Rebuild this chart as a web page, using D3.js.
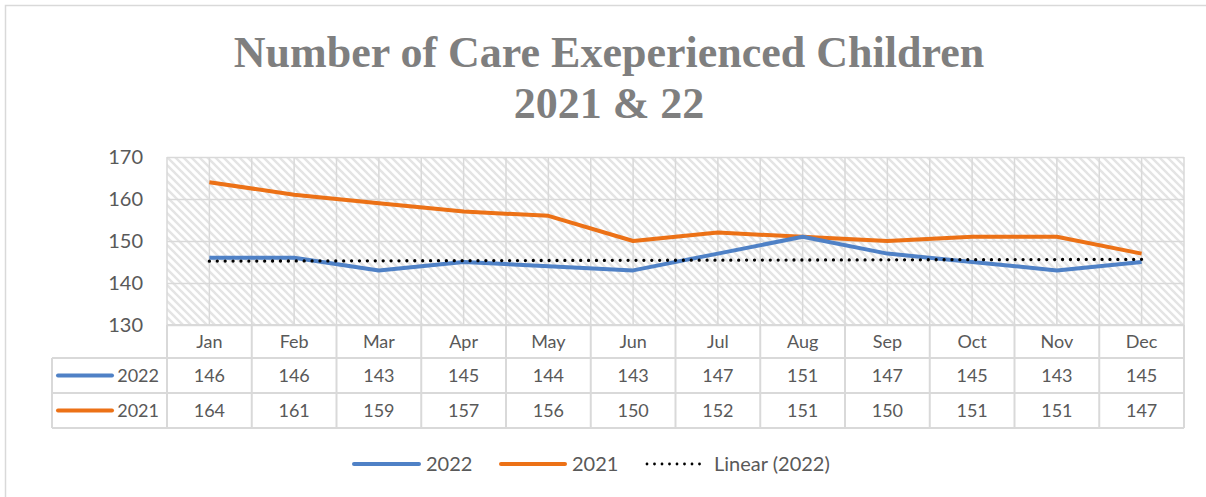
<!DOCTYPE html>
<html>
<head>
<meta charset="utf-8">
<script src="https://cdn.jsdelivr.net/npm/d3@7"></script>
<style>
  body { margin: 0; background: #fff; }
  text { font-family: Lato, "Open Sans", sans-serif; fill: #595959; }
</style>
</head>
<body>
<div id="chart"></div>
<script>
// chart data
const months = ["Jan", "Feb", "Mar", "Apr", "May", "Jun", "Jul", "Aug", "Sep", "Oct", "Nov", "Dec"];
const values2022 = [146, 146, 143, 145, 144, 143, 147, 151, 147, 145, 143, 145];
const values2021 = [164, 161, 159, 157, 156, 150, 152, 151, 150, 151, 151, 147];
const yTicks = [130, 140, 150, 160, 170];
const titleLines = ["Number of Care Exeperienced Children", "2021 & 22"];

const width = 1206, height = 497;
const margin = {top: 157, right: 22, bottom: 172, left: 167};
const plotW = width - margin.left - margin.right;
const plotH = height - margin.top - margin.bottom;
const rowH = [33, 35, 35];

const blue = "#4f81c6", orange = "#ec7116", grid = "#d9d9d9";

const svg = d3.select("#chart").append("svg")
    .attr("width", width)
    .attr("height", height);

// hatch pattern for plot background
const defs = svg.append("defs");
const pat = defs.append("pattern")
    .attr("id", "hatch")
    .attr("patternUnits", "userSpaceOnUse")
    .attr("width", 8).attr("height", 8);
pat.append("rect").attr("width", 8).attr("height", 8).attr("fill", "#fff");
pat.append("path")
    .attr("d", "M-2,-2 L10,10 M-2,6 L2,10 M6,-2 L10,2")
    .attr("stroke", "#e4e4e4")
    .attr("stroke-width", 2.4);

// outer chart border
svg.append("rect")
    .attr("x", 5.5).attr("y", 5.5)
    .attr("width", 1210).attr("height", 500)
    .attr("fill", "none")
    .attr("stroke", grid)
    .attr("stroke-width", 1.5);

// title
svg.append("text")
    .attr("text-anchor", "middle")
    .style("font-family", "'Liberation Serif', serif")
    .style("font-weight", "bold")
    .style("font-size", "44px")
    .style("fill", "#7f7f7f")
    .selectAll("tspan")
    .data(titleLines)
    .join("tspan")
    .attr("x", 609)
    .attr("y", (d, i) => 67 + i * 51)
    .text(d => d);

const g = svg.append("g")
    .attr("transform", "translate(" + margin.left + "," + margin.top + ")");

const x = d3.scaleBand().domain(months).range([0, plotW]);
const y = d3.scaleLinear().domain([130, 170]).range([plotH, 0]);
const bw = x.bandwidth();

g.append("rect")
    .attr("width", plotW).attr("height", plotH)
    .attr("fill", "url(#hatch)");

// vertical gridlines, at category edges and centres
const vLines = [];
months.forEach(m => { vLines.push(x(m)); vLines.push(x(m) + bw / 2); });
vLines.push(plotW);
g.append("g").selectAll("line")
    .data(vLines)
    .join("line")
    .attr("x1", d => d).attr("x2", d => d)
    .attr("y1", 0).attr("y2", plotH)
    .attr("stroke", grid)
    .attr("stroke-width", 1.5);

// y axis with horizontal gridlines
const yAxis = g.append("g")
    .call(d3.axisLeft(y).tickValues(yTicks).tickSize(-plotW).tickPadding(24));
yAxis.select(".domain").remove();
yAxis.selectAll(".tick line").attr("stroke", grid).attr("stroke-width", 1.5);
yAxis.selectAll(".tick text")
    .style("font-size", "20px")
    .style("font-family", "Lato, sans-serif")
    .attr("fill", "#595959");

// lines
const line = d3.line()
    .x((d, i) => x(months[i]) + bw / 2)
    .y(d => y(d));

g.append("path")
    .datum(values2021)
    .attr("d", line)
    .attr("fill", "none")
    .attr("stroke", orange)
    .attr("stroke-width", 4)
    .attr("stroke-linejoin", "round");

g.append("path")
    .datum(values2022)
    .attr("d", line)
    .attr("fill", "none")
    .attr("stroke", blue)
    .attr("stroke-width", 4)
    .attr("stroke-linejoin", "round");

// linear trend for 2022 (least squares)
const n = values2022.length;
const xs = d3.range(1, n + 1);
const mx = d3.mean(xs), my = d3.mean(values2022);
const slope = d3.sum(xs, (v, i) => (v - mx) * (values2022[i] - my)) / d3.sum(xs, v => (v - mx) * (v - mx));
const icpt = my - slope * mx;
const trend = [icpt + slope * 1, icpt + slope * n];
g.append("line")
    .attr("x1", x(months[0]) + bw / 2)
    .attr("x2", x(months[n - 1]) + bw / 2)
    .attr("y1", y(trend[0]))
    .attr("y2", y(trend[1]))
    .attr("stroke", "#000")
    .attr("stroke-width", 3.3)
    .attr("stroke-linecap", "round")
    .attr("stroke-dasharray", "0 7.9");

// data table
const tbl = g.append("g").attr("transform", "translate(0," + plotH + ")");
const rowY = [0, rowH[0], rowH[0] + rowH[1], rowH[0] + rowH[1] + rowH[2]];
const tableLeft = 52 - margin.left;

// horizontal table lines
tbl.append("line")
    .attr("x1", 0).attr("x2", plotW).attr("y1", 0).attr("y2", 0)
    .attr("stroke", grid).attr("stroke-width", 2);
[1, 2, 3].forEach(i => {
    tbl.append("line")
        .attr("x1", tableLeft).attr("x2", plotW)
        .attr("y1", rowY[i]).attr("y2", rowY[i])
        .attr("stroke", grid).attr("stroke-width", 2);
});
// vertical table lines
const colEdges = months.map(m => x(m)).concat([plotW]);
tbl.selectAll(".colLine")
    .data(colEdges)
    .join("line")
    .attr("class", "colLine")
    .attr("x1", d => d).attr("x2", d => d)
    .attr("y1", 0).attr("y2", rowY[3])
    .attr("stroke", grid).attr("stroke-width", 2);
tbl.append("line")
    .attr("x1", tableLeft).attr("x2", tableLeft)
    .attr("y1", rowY[1]).attr("y2", rowY[3])
    .attr("stroke", grid).attr("stroke-width", 2);

// month header
tbl.selectAll(".monthLabel")
    .data(months)
    .join("text")
    .attr("class", "monthLabel")
    .attr("x", d => x(d) + bw / 2)
    .attr("y", rowH[0] / 2 + 6)
    .attr("text-anchor", "middle")
    .style("font-size", "18px")
    .text(d => d);

const tableRows = [
    {name: "2022", values: values2022, color: blue},
    {name: "2021", values: values2021, color: orange}
];
tableRows.forEach((row, r) => {
    const cy = rowY[r + 1] + rowH[r + 1] / 2;
    tbl.selectAll(".val" + r)
        .data(row.values)
        .join("text")
        .attr("class", "val" + r)
        .attr("x", (d, i) => x(months[i]) + bw / 2)
        .attr("y", cy + 6)
        .attr("text-anchor", "middle")
        .style("font-size", "18px")
        .text(d => d);
    tbl.append("line")
        .attr("x1", 58 - margin.left).attr("x2", 112 - margin.left)
        .attr("y1", cy).attr("y2", cy)
        .attr("stroke", row.color)
        .attr("stroke-width", 4)
        .attr("stroke-linecap", "round");
    tbl.append("text")
        .attr("x", -8)
        .attr("y", cy + 6)
        .attr("text-anchor", "end")
        .style("font-size", "18px")
        .text(row.name);
});

// legend
const legendItems = [
    {name: "2022", color: blue, x0: 354, x1: 419, dotted: false},
    {name: "2021", color: orange, x0: 501, x1: 565, dotted: false},
    {name: "Linear (2022)", color: "#000", x0: 647, x1: 707, dotted: true}
];
const lg = svg.append("g").attr("transform", "translate(0,464)");
legendItems.forEach(it => {
    lg.append("line")
        .attr("x1", it.x0).attr("x2", it.x1)
        .attr("stroke", it.color)
        .attr("stroke-width", it.dotted ? 2.8 : 4)
        .attr("stroke-linecap", "round")
        .attr("stroke-dasharray", it.dotted ? "0 7.5" : null);
    lg.append("text")
        .attr("x", it.x1 + 7)
        .attr("y", 7)
        .style("font-size", "20px")
        .text(it.name);
});
</script>
</body>
</html>
